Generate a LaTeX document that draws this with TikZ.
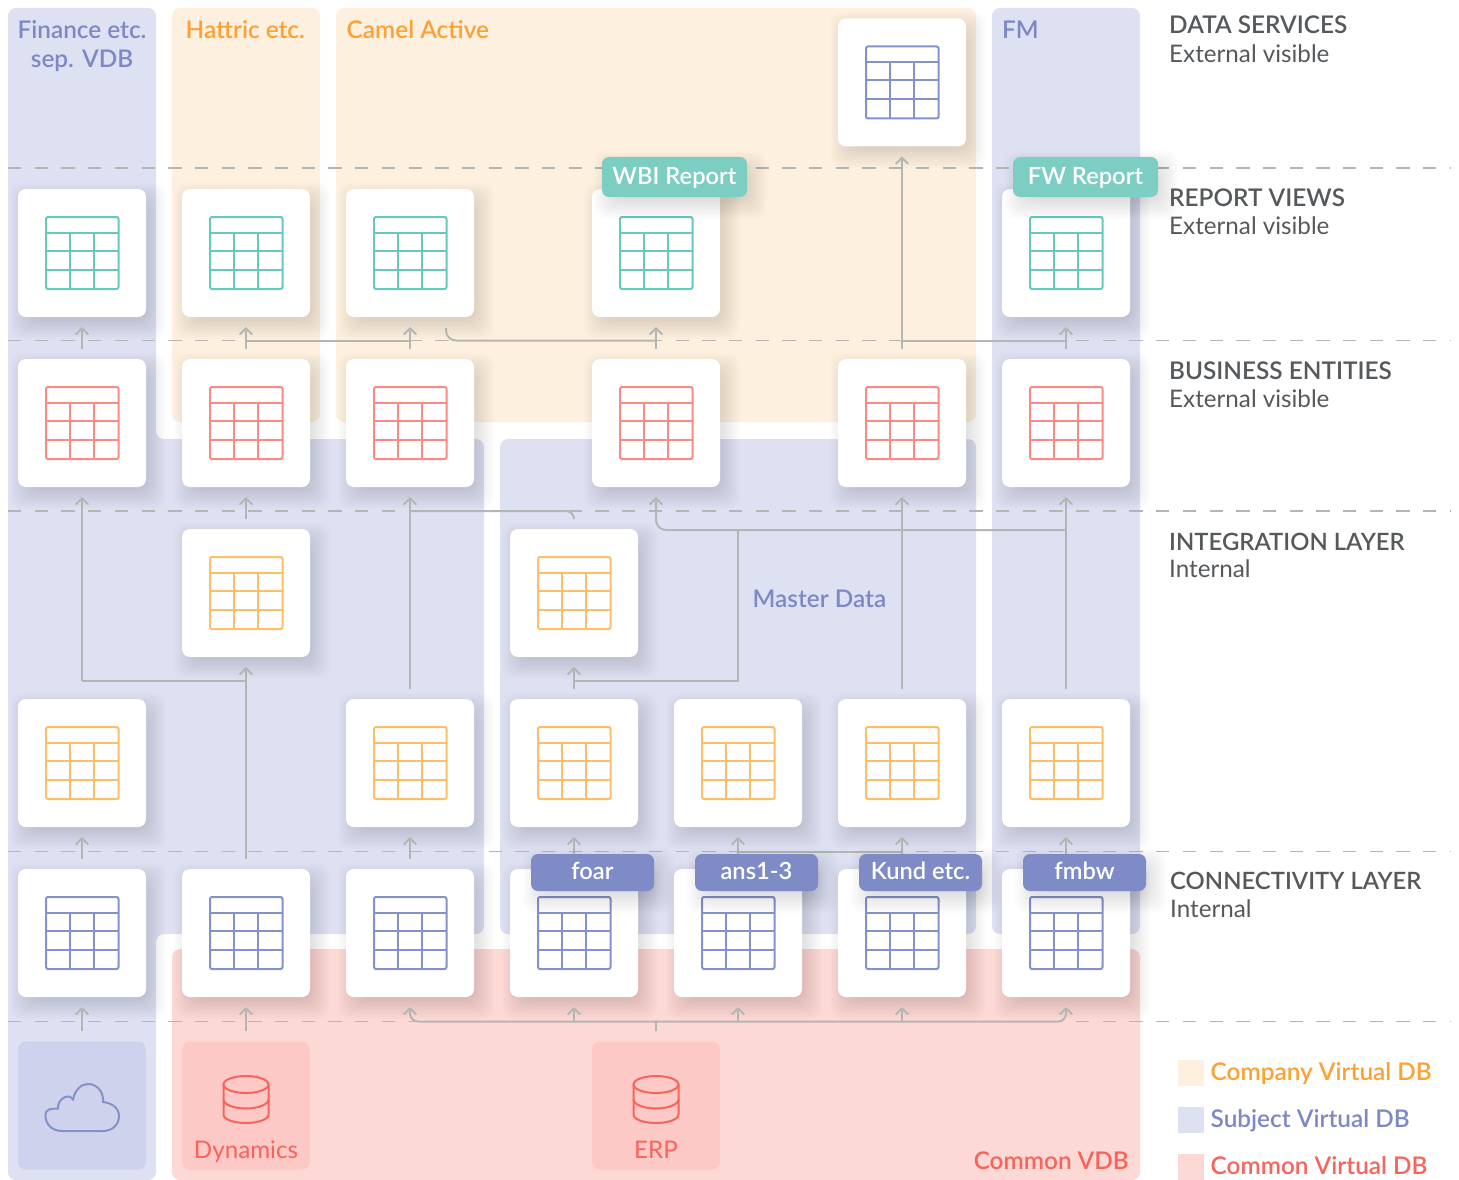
\documentclass[tikz,border=0pt]{standalone}
\usepackage{fontspec}
\setmainfont{Lato}
\newfontfamily\med{Lato Semibold}
\newfontfamily\semi{Lato}
\usetikzlibrary{arrows.meta}
\definecolor{zblue}{HTML}{DEE1F2}
\definecolor{zorange}{HTML}{FDF0DE}
\definecolor{zpink}{HTML}{FCD9D5}
\definecolor{sblue}{HTML}{CED2EC}
\definecolor{spink}{HTML}{FCC9C7}
\definecolor{iteal}{HTML}{66C9BD}
\definecolor{ired}{HTML}{FA8A82}
\definecolor{iorange}{HTML}{FBBF6A}
\definecolor{iblue}{HTML}{8492CC}
\definecolor{tteal}{HTML}{7CCEC2}
\definecolor{tblue}{HTML}{7E8BC6}
\definecolor{lblue}{HTML}{7C89C4}
\definecolor{lorange}{HTML}{FFA033}
\definecolor{lred}{HTML}{F8635A}
\definecolor{lgray}{HTML}{56595C}
\definecolor{conn}{HTML}{B4B6B4}
\tikzset{
  x=1pt,y=-1pt,
  zone/.style={rounded corners=8pt},
  guide/.style={draw=conn,line width=1.5pt,dash pattern=on 13.35pt off 13.35pt},
  cardbox/.style={fill=white,rounded corners=8pt,minimum width=128pt,minimum height=128pt,inner sep=0pt},
  srcbox/.style={rounded corners=8pt,minimum width=128pt,minimum height=128pt,inner sep=0pt},
  tagbox/.style={rounded corners=7pt,inner sep=0pt,text=white,font=\med\fontsize{23.7}{24}\selectfont,text height=14pt,text depth=0pt},
  lbl/.style={inner sep=0pt,yshift=-0.7pt,font=\med\fontsize{24.35}{28}\selectfont},
  lbltight/.style={inner sep=0pt,yshift=-0.7pt,font=\med\fontsize{23.85}{28}\selectfont},
  reg/.style={inner sep=0pt,font=\semi\fontsize{24.2}{28}\selectfont},
  conline/.style={draw=conn,line width=2pt},
  arr/.style={conline,-{Straight Barb[length=6pt,width=12pt,round]}},
  iconline/.style={line width=2pt,rounded corners=2pt},
}
\newcommand\softshadow[4]{%
  \foreach \k in {-10,-8,...,14}{%
    \fill[black,fill opacity=0.0135,rounded corners=12pt]
      (#1+6-#3/2-\k,#2+8-#4/2-\k) rectangle (#1+6+#3/2+\k,#2+8+#4/2+\k);
  }}
\newcommand\tableicon[3]{%
  \begin{scope}[shift={(#1,#2)},draw=#3]
    \draw[iconline] (-36,-36) rectangle (36.5,36);
    \draw[line width=2pt] (-36,-20)--(36.5,-20) (-36,-2)--(36.5,-2) (-36,17)--(36.5,17)
      (-12,-20)--(-12,36) (12,-20)--(12,36);
  \end{scope}}
\newcommand\card[4]{%
  \node[cardbox] (#1) at (#2,#3) {};
  \tableicon{#2}{#3}{#4}}
\newcommand\dbicon[2]{%
  \begin{scope}[shift={(#1,#2)},draw=lred,line width=2pt]
    \draw (0,-21) ellipse [x radius=22.5,y radius=8.5];
    \draw (-22.5,-21) -- (-22.5,9) .. controls (-22.5,14) and (-12,17.5) .. (0,17.5) .. controls (12,17.5) and (22.5,14) .. (22.5,9) -- (22.5,-21);
    \draw (-22.5,-6) .. controls (-22.5,-1) and (-12,3) .. (0,3) .. controls (12,3) and (22.5,-1) .. (22.5,-6);
  \end{scope}}
\begin{document}
\begin{tikzpicture}
\useasboundingbox (0,0) rectangle (1459,1180);
\fill[white] (0,0) rectangle (1459,1180);
% zones
\fill[zblue,zone] (8,8)--(156,8)--(156,439)--(484,439)--(484,934)--(156,934)--(156,1180)--(8,1180)--cycle;
\fill[zblue,zone] (500,439) rectangle (976,934);
\fill[zblue,zone] (992,8) rectangle (1140,934);
\fill[zorange,zone] (172,8) rectangle (320,422);
\fill[zorange,zone] (336,8) rectangle (976,422);
\fill[zpink,zone] (172,949) rectangle (1140,1180);
% level guides
\coordinate (y340) at (0,340.5);
\coordinate (y511) at (0,511);
\coordinate (y530) at (0,530);
\coordinate (y681) at (0,681);
\coordinate (y851) at (0,851.5);
\coordinate (y1021) at (0,1021.5);
\coordinate (gl1) at (8,168);\coordinate (gr1) at (1451,168);
\coordinate (gl2) at (8,340.5);\coordinate (gr2) at (1451,340.5);
\coordinate (gl3) at (8,511);\coordinate (gr3) at (1451,511);
\coordinate (gl4) at (8,851.5);\coordinate (gr4) at (1451,851.5);
\coordinate (gl5) at (8,1021.5);\coordinate (gr5) at (1451,1021.5);
\foreach \g in {1,...,5}{\draw[guide] (gl\g)--(gr\g);}
% shadows
\softshadow{902}{82}{128}{128}
\foreach \c in {82,246,410,656,1066}{\softshadow{\c}{253}{128}{128}}
\foreach \c in {82,246,410,656,902,1066}{\softshadow{\c}{423}{128}{128}}
\foreach \c in {246,574}{\softshadow{\c}{593}{128}{128}}
\foreach \c in {82,410,574,738,902,1066}{\softshadow{\c}{763}{128}{128}}
\foreach \c in {82,246,410,574,738,902,1066}{\softshadow{\c}{933}{128}{128}}
% cards
\card{r1c902}{902}{82.5}{iblue}
\card{r2c82}{82}{253}{iteal}
\card{r2c246}{246}{253}{iteal}
\card{r2c410}{410}{253}{iteal}
\card{r2c656}{656}{253}{iteal}
\card{r2c1066}{1066}{253}{iteal}
\card{r3c82}{82}{423}{ired}
\card{r3c246}{246}{423}{ired}
\card{r3c410}{410}{423}{ired}
\card{r3c656}{656}{423}{ired}
\card{r3c902}{902}{423}{ired}
\card{r3c1066}{1066}{423}{ired}
\card{r4c246}{246}{593}{iorange}
\card{r4c574}{574}{593}{iorange}
\card{r5c82}{82}{763}{iorange}
\card{r5c410}{410}{763}{iorange}
\card{r5c574}{574}{763}{iorange}
\card{r5c738}{738}{763}{iorange}
\card{r5c902}{902}{763}{iorange}
\card{r5c1066}{1066}{763}{iorange}
\card{r6c82}{82}{933}{iblue}
\card{r6c246}{246}{933}{iblue}
\card{r6c410}{410}{933}{iblue}
\card{r6c574}{574}{933}{iblue}
\card{r6c738}{738}{933}{iblue}
\card{r6c902}{902}{933}{iblue}
\card{r6c1066}{1066}{933}{iblue}
% sources
\node[srcbox,fill=sblue] (r7c82) at (82,1105.5) {};
\node[srcbox,fill=spink] (r7c246) at (246,1105.5) {};
\node[srcbox,fill=spink] (r7c656) at (656,1105.5) {};
\draw[iblue,line width=2pt] (62,1131) .. controls (52,1131) and (45.5,1124) .. (45.5,1116)
  .. controls (45.5,1108) and (51,1109) .. (58,1108.5)
  .. controls (57,1100) and (68,1092) .. (73,1099.5)
  .. controls (75,1090) and (81,1084) .. (88,1084)
  .. controls (97,1084) and (104,1092) .. (103,1102)
  .. controls (112,1103) and (119,1108) .. (119,1116)
  .. controls (119,1125) and (112,1131) .. (103,1131) -- cycle;
\dbicon{246}{1105.5}
\dbicon{656}{1105.5}
% connectors: report <- business
\draw[arr] ([yshift=10pt]r3c82.north)--([yshift=-10pt]r2c82.south);
\draw[arr] ([yshift=10pt]r3c246.north)--([yshift=-10pt]r2c246.south);
\draw[arr] ([yshift=10pt]r3c410.north)--([yshift=-10pt]r2c410.south);
\draw[arr] ([yshift=10pt]r3c656.north)--([yshift=-10pt]r2c656.south);
\draw[arr] ([yshift=10pt]r3c1066.north)--([yshift=-10pt]r2c1066.south);
\draw[arr] ([yshift=10pt]r3c902.north)--([yshift=-10pt]r1c902.south);
\draw[conline] (r2c246 |- y340)--(r2c410 |- y340);
\draw[conline,rounded corners=10pt] ([xshift=36pt,yshift=-11pt]r2c410.south) |- (r2c656 |- y340);
\draw[conline] (r3c902 |- y340)--(r3c1066 |- y340);
% business <- integration
\draw[arr] (r5c82 |- y681)--([yshift=-10pt]r3c82.south);
\draw[arr] ([yshift=10pt]r4c246.north)--([yshift=-10pt]r3c246.south);
\draw[arr] ([yshift=10pt]r5c410.north)--([yshift=-10pt]r3c410.south);
\draw[conline,rounded corners=8pt] (r3c410 |- y511) -| ([yshift=10pt]r4c574.north);
\draw[arr,rounded corners=10pt] (r5c1066 |- y530) -| ([yshift=-10pt]r3c656.south);
\draw[arr] ([yshift=10pt]r5c902.north)--([yshift=-10pt]r3c902.south);
\draw[arr] ([yshift=10pt]r5c1066.north)--([yshift=-10pt]r3c1066.south);
\draw[conline] (r5c738 |- y530)--(r5c738 |- y681)--(r5c574 |- y681);
\draw[arr] ([yshift=10pt]r5c574.north)--([yshift=-10pt]r4c574.south);
\draw[arr] ([yshift=10pt]r6c246.north)--([yshift=-10pt]r4c246.south);
\draw[conline] (r5c82 |- y681)--(r4c246 |- y681);
% row 5 <- row 6
\draw[arr] ([yshift=10pt]r6c82.north)--([yshift=-10pt]r5c82.south);
\draw[arr] ([yshift=10pt]r6c410.north)--([yshift=-10pt]r5c410.south);
\draw[arr] ([yshift=10pt]r6c574.north)--([yshift=-10pt]r5c574.south);
\draw[arr] ([yshift=10pt]r6c738.north)--([yshift=-10pt]r5c738.south);
\draw[arr] ([yshift=10pt]r6c902.north)--([yshift=-10pt]r5c902.south);
\draw[arr] ([yshift=10pt]r6c1066.north)--([yshift=-10pt]r5c1066.south);
\draw[conline] (r6c738 |- y851)--(r6c902 |- y851);
% row 6 <- sources
\draw[arr] ([yshift=10pt]r7c82.north)--([yshift=-10pt]r6c82.south);
\draw[arr] ([yshift=10pt]r7c246.north)--([yshift=-10pt]r6c246.south);
\draw[conline] ([yshift=10pt]r7c656.north)--(r7c656 |- y1021);
\draw[arr,{Straight Barb[length=6pt,width=12pt,round]}-{Straight Barb[length=6pt,width=12pt,round]},rounded corners=8pt]
  ([yshift=-10pt]r6c410.south) |- (r7c656 |- y1021) -| ([yshift=-10pt]r6c1066.south);
\draw[arr] (r6c574 |- y1021)--([yshift=-10pt]r6c574.south);
\draw[arr] (r6c738 |- y1021)--([yshift=-10pt]r6c738.south);
\draw[arr] (r6c902 |- y1021)--([yshift=-10pt]r6c902.south);
% tags
\softshadow{674.5}{177}{145}{40}
\softshadow{1085.5}{177}{145}{40}
\softshadow{592.5}{872.5}{123}{37}
\softshadow{756.5}{872.5}{123}{37}
\softshadow{920.5}{872.5}{123}{37}
\softshadow{1084.5}{872.5}{123}{37}
\node[tagbox,fill=tteal,minimum width=145pt,minimum height=40pt] (wbi) at (674.5,177) {WBI Report};
\node[tagbox,fill=tteal,minimum width=145pt,minimum height=40pt] (fw) at (1085.5,177) {FW Report};
\node[tagbox,fill=tblue,minimum width=123pt,minimum height=37pt] (foar) at (592.5,872.5) {foar};
\node[tagbox,fill=tblue,minimum width=123pt,minimum height=37pt] (ans) at (756.5,872.5) {ans1-3};
\node[tagbox,fill=tblue,minimum width=123pt,minimum height=37pt] (kund) at (920.5,872.5) {Kund etc.};
\node[tagbox,fill=tblue,minimum width=123pt,minimum height=37pt] (fmbw) at (1084.5,872.5) {fmbw};
% zone labels
\node[lbl,text=lblue,anchor=base] (t1) at (82,38) {Finance etc.};
\node[lbl,text=lblue,anchor=base] (t2) at (82,67) {sep. VDB};
\node[lbl,text=lorange,anchor=base west] (t3) at (185.5,38) {Hattric etc.};
\node[lbl,text=lorange,anchor=base west] (t4) at (346.5,38) {Camel Active};
\node[lbl,text=lblue,anchor=base west] (t5) at (1002,38) {FM};
\node[lbl,text=lblue,anchor=base] (t6) at (819.5,607) {Master Data};
\node[lbl,text=lred,anchor=base east] (t7) at (1129,1169) {Common VDB};
\node[reg,text=lred,anchor=base] (t8) at (246,1158) {Dynamics};
\node[reg,text=lred,anchor=base] (t9) at (656,1158) {ERP};
% right column
\node[lbl,text=lgray,anchor=base west] (h1) at (1169,33) {DATA SERVICES};
\node[reg,text=lgray,anchor=base west] (s1) at (1169,62.5) {External visible};
\node[lbl,text=lgray,anchor=base west] (h2) at (1169,206) {REPORT VIEWS};
\node[reg,text=lgray,anchor=base west] (s2) at (1169,234.5) {External visible};
\node[lbl,text=lgray,anchor=base west] (h3) at (1169,379) {BUSINESS ENTITIES};
\node[reg,text=lgray,anchor=base west] (s3) at (1169,407.5) {External visible};
\node[lbltight,text=lgray,anchor=base west] (h4) at (1169,550) {INTEGRATION LAYER};
\node[reg,text=lgray,anchor=base west] (s4) at (1169,577.5) {Internal};
\node[lbltight,text=lgray,anchor=base west] (h5) at (1170,889) {CONNECTIVITY LAYER};
\node[reg,text=lgray,anchor=base west] (s5) at (1170,917) {Internal};
% legend
\fill[zorange] (1178,1060) rectangle (1204,1086);
\fill[zblue] (1178,1107) rectangle (1204,1133);
\fill[zpink] (1178,1154) rectangle (1204,1180);
\node[lbl,text=lorange,anchor=base west] (l1) at (1210.5,1080) {Company Virtual DB};
\node[lbl,text=lblue,anchor=base west] (l2) at (1210.5,1127) {Subject Virtual DB};
\node[lbl,text=lred,anchor=base west] (l3) at (1210.5,1174) {Common Virtual DB};
\end{tikzpicture}
\end{document}
